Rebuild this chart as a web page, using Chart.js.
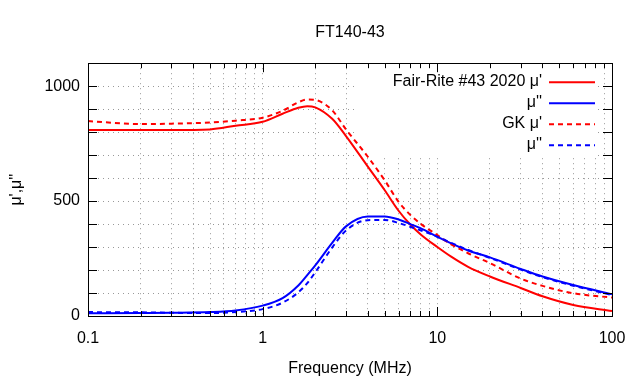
<!DOCTYPE html>
<html>
<head>
<meta charset="utf-8">
<script src="https://cdn.jsdelivr.net/npm/chart.js@4"></script>
<style>
  html, body { margin: 0; padding: 0; background: #fff; }
</style>
</head>
<body>
<canvas id="muChart" width="640" height="384"></canvas>
<script>
// Frecuencias (MHz) y valores
const freqs = [0.1, 0.2, 0.3, 0.5, 0.7, 1, 1.3, 1.6, 1.8, 2, 2.5, 3, 4, 5, 6, 7, 8, 10, 12, 15, 20, 30, 40, 60, 100];
const frMu1 = [809, 809, 809, 812, 828, 845, 880, 906, 913, 908, 858, 783, 650, 547, 458, 398, 356, 300, 258, 214, 172, 122, 86, 48, 22];
const frMu2 = [12, 13, 14, 17, 24, 45, 78, 133, 178, 220, 318, 390, 433, 433, 420, 400, 382, 345, 316, 285, 255, 205, 172, 135, 95];
const gkMu1 = [848, 835, 837, 842, 850, 863, 893, 930, 942, 940, 895, 812, 693, 590, 497, 440, 402, 352, 312, 273, 230, 163, 131, 99, 80];
const gkMu2 = [17, 16, 14, 13, 17, 30, 58, 103, 143, 190, 298, 372, 417, 418, 405, 388, 373, 345, 318, 287, 253, 202, 169, 132, 91];

const xTicks = [0.1, 0.2, 0.3, 0.4, 0.5, 0.6, 0.7, 0.8, 0.9, 1, 2, 3, 4, 5, 6, 7, 8, 9, 10, 20, 30, 40, 50, 60, 70, 80, 90, 100];
const yLabels = [0, 500, 1000];

const pts = arr => freqs.map((f, i) => ({ x: f, y: arr[i] }));
const isDecade = v => Math.abs(Math.log10(v) - Math.round(Math.log10(v))) < 1e-6;

Chart.defaults.font.family = "'Liberation Sans', Arial, sans-serif";
Chart.defaults.font.size = 16;
Chart.defaults.color = '#000';

// Caja del gráfico con marcas hacia dentro, al estilo gnuplot
const framePlugin = {
    id: 'frame',
    beforeDatasetsDraw(chart) {
        const a = chart.chartArea, ctx = chart.ctx;
        ctx.save();
        ctx.fillStyle = '#fff';
        ctx.fillRect(a.right - 257, a.top + 1, 243, 93);
        ctx.restore();
    },
    afterDatasetsDraw(chart) {
        const a = chart.chartArea, ctx = chart.ctx;
        const xs = chart.scales.x, ys = chart.scales.y;
        ctx.save();
        ctx.strokeStyle = '#000';
        ctx.lineWidth = 1;
        ctx.beginPath();
        xs.ticks.forEach(t => {
            const px = Math.round(xs.getPixelForValue(t.value)) + 0.5;
            const len = isDecade(t.value) ? 9 : 5;
            ctx.moveTo(px, a.bottom); ctx.lineTo(px, a.bottom - len);
            ctx.moveTo(px, a.top); ctx.lineTo(px, a.top + len);
        });
        ys.ticks.forEach(t => {
            const py = Math.round(ys.getPixelForValue(t.value)) + 0.5;
            ctx.moveTo(a.left, py); ctx.lineTo(a.left + 9, py);
            ctx.moveTo(a.right, py); ctx.lineTo(a.right - 9, py);
        });
        ctx.stroke();
        ctx.strokeRect(Math.round(a.left) + 0.5, Math.round(a.top) + 0.5,
                       Math.round(a.right - a.left), Math.round(a.bottom - a.top));

        // Leyenda dentro del gráfico: texto a la izquierda, muestra de línea a la derecha
        ctx.font = "16px 'Liberation Sans', Arial, sans-serif";
        ctx.textAlign = 'right';
        ctx.textBaseline = 'middle';
        chart.data.datasets.forEach((ds, i) => {
            const y = a.top + 19 + i * 21;
            ctx.fillStyle = '#000';
            ctx.fillText(ds.label, a.right - 70, y - 1);
            ctx.beginPath();
            ctx.strokeStyle = ds.borderColor;
            ctx.lineWidth = 2;
            ctx.setLineDash(ds.borderDash || []);
            ctx.moveTo(a.right - 63, y);
            ctx.lineTo(a.right - 17, y);
            ctx.stroke();
        });
        ctx.restore();
    }
};

new Chart(document.getElementById('muChart').getContext('2d'), {
    type: 'line',
    data: {
        datasets: [
            { label: "Fair-Rite #43 2020 μ'", data: pts(frMu1), borderColor: '#ff0000', order: 4 },
            { label: "μ''", data: pts(frMu2), borderColor: '#0000ff', order: 3 },
            { label: "GK μ'", data: pts(gkMu1), borderColor: '#ff0000', borderDash: [5, 4], order: 2 },
            { label: "μ''", data: pts(gkMu2), borderColor: '#0000ff', borderDash: [5, 4], order: 1 }
        ]
    },
    options: {
        responsive: false,
        animation: false,
        layout: { padding: { left: 0, right: 28, top: 0, bottom: 0 } },
        elements: {
            point: { radius: 0 },
            line: { borderWidth: 2, cubicInterpolationMode: 'monotone', fill: false }
        },
        plugins: {
            legend: { display: false },
            tooltip: { enabled: false },
            title: {
                display: true,
                fullSize: false,
                text: 'FT140-43',
                color: '#000',
                font: { size: 16, weight: 'normal' },
                padding: { top: 23, bottom: 21 }
            }
        },
        scales: {
            x: {
                type: 'logarithmic',
                min: 0.1,
                max: 100,
                afterBuildTicks: s => { s.ticks = xTicks.map(v => ({ value: v })); },
                afterFit: s => { s.height = 68; },
                ticks: {
                    autoSkip: false,
                    maxRotation: 0,
                    padding: 13,
                    callback: v => isDecade(v) ? String(v) : ''
                },
                grid: { color: '#999999', drawTicks: false },
                border: { display: false, dash: [1, 4] },
                title: { display: true, text: 'Frequency (MHz)', padding: { top: 0, bottom: 6 } }
            },
            y: {
                min: 0,
                max: 1100,
                afterFit: s => { s.width = 88; },
                ticks: {
                    stepSize: 100,
                    padding: 8,
                    callback: v => yLabels.includes(v) ? String(v) : ''
                },
                grid: { color: '#999999', drawTicks: false },
                border: { display: false, dash: [1, 4] },
                title: { display: true, text: "μ',μ''", padding: { top: 7, bottom: 0 } }
            }
        }
    },
    plugins: [framePlugin]
});
</script>
</body>
</html>
